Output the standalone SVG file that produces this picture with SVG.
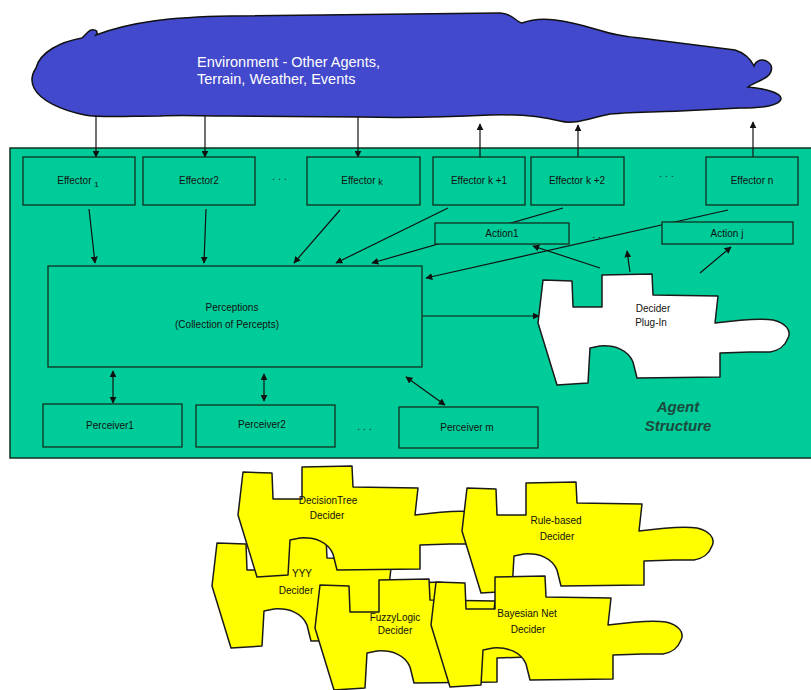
<svg xmlns="http://www.w3.org/2000/svg" xmlns:xlink="http://www.w3.org/1999/xlink" width="811" height="690" viewBox="0 0 811 690">
<style>
  .box { fill: #00cc99; stroke: #12301f; stroke-width: 1.3; }
  .lbl { font-family: "Liberation Sans", Arial, sans-serif; font-size: 10px; fill: #111; text-anchor: middle; }
  .dots { font-family: "Liberation Sans", Arial, sans-serif; font-size: 10px; fill: #222; text-anchor: middle; letter-spacing: 3px; }
  .conn { stroke: #111; stroke-width: 1.2; fill: none; }
  .arr { marker-end: url(#ah); }
  .darr { marker-end: url(#ah); marker-start: url(#ahs); }
  .piece { stroke: #1a1a1a; stroke-width: 1.5; stroke-linejoin: round; }
  .yel { fill: #ffff00; }
  .env { font-family: "Liberation Sans", Arial, sans-serif; font-size: 14.5px; fill: #ffffff; }
  .agent { font-family: "Liberation Sans", Arial, sans-serif; font-size: 15px; font-weight: bold; font-style: italic; fill: #1c4a3c; text-anchor: middle; }
</style>
<defs>
  <marker id="ah" viewBox="0 0 10 10" refX="9" refY="5" markerWidth="7" markerHeight="7" markerUnits="userSpaceOnUse" orient="auto">
    <path d="M0,0 L10,5 L0,10 Z" fill="#111"/>
  </marker>
  <marker id="ahs" viewBox="0 0 10 10" refX="1" refY="5" markerWidth="7" markerHeight="7" markerUnits="userSpaceOnUse" orient="auto">
    <path d="M10,0 L0,5 L10,10 Z" fill="#111"/>
  </marker>
  <path id="piece" d="M543,280 L572,281 L573,307 L602,307 L602,275 L652,274 L653,295 L718,296 L715,323 C730,321 760,318 773,320 C785,323 792,330 788,338 C785,346 780,350 770,352 L750,352 L720,353 L720,377 L637,378 L633,362 C628,350 615,345 600,346 L590,348 L588,383 L557,385 L538,323 L543,280 Z"/>
</defs>

<rect width="811" height="690" fill="#ffffff"/>

<g id="environment">
  <path d="M36,68 C40,52 60,42 82,38 L88,32 C92,28 100,30 96,35 C130,22 170,17 230,16 L500,13 C512,13 516,22 522,23 C530,20 540,18 555,20 C590,24 605,36 640,38 L735,50 C748,54 752,62 754,66 C756,60 763,58 768,62 C774,66 772,74 765,78 C758,82 752,84 748,87 C760,88 782,92 781,99 C779,106 760,108 740,108 L680,111 C650,112 630,112 610,114 C590,118 575,125 560,121 C540,116 520,114 490,115 C450,117 400,118 360,117 L230,116 C200,116 180,115 160,116 C130,116 100,118 85,115 C60,110 40,100 34,88 C30,80 32,74 36,68 Z" fill="#4249cc" stroke="#111" stroke-width="1.5"/>
  <text class="env" x="197" y="67">Environment - Other Agents,</text>
  <text class="env" x="197" y="84">Terrain, Weather, Events</text>
</g>

<g id="agent-structure">
  <rect x="10" y="148" width="802" height="310" fill="#00cc99" stroke="#12301f" stroke-width="1.5"/>
  <text class="agent" x="678" y="412">Agent</text>
  <text class="agent" x="678" y="431">Structure</text>
</g>

<g id="connectors">
  <line class="conn arr" x1="96" y1="115" x2="96" y2="157"/>
  <line class="conn arr" x1="205" y1="116" x2="205" y2="157"/>
  <line class="conn arr" x1="358" y1="117" x2="358" y2="157"/>
  <line class="conn arr" x1="480" y1="157" x2="480" y2="124"/>
  <line class="conn arr" x1="578" y1="157" x2="578" y2="125"/>
  <line class="conn arr" x1="753" y1="157" x2="753" y2="122"/>
  <line class="conn arr" x1="89" y1="209" x2="95" y2="263"/>
  <line class="conn arr" x1="206" y1="209" x2="204" y2="263"/>
  <line class="conn arr" x1="340" y1="210" x2="294" y2="263"/>
  <line class="conn arr" x1="448" y1="208" x2="336" y2="263"/>
  <line class="conn arr" x1="563" y1="208" x2="372" y2="263"/>
  <line class="conn arr" x1="728" y1="210" x2="426" y2="278"/>
  <line class="conn arr" x1="422" y1="316" x2="539" y2="316"/>
  <line class="conn arr" x1="600" y1="268" x2="533" y2="246"/>
  <line class="conn arr" x1="630" y1="272" x2="627" y2="251"/>
  <line class="conn arr" x1="700" y1="273" x2="731" y2="247"/>
  <line class="conn darr" x1="113" y1="371" x2="113" y2="403"/>
  <line class="conn darr" x1="264" y1="374" x2="264" y2="401"/>
  <line class="conn darr" x1="406" y1="377" x2="445" y2="405"/>
</g>

<g id="effector1">
  <rect class="box" x="23" y="157" width="112" height="48"/>
  <text class="lbl" x="78" y="184">Effector <tspan font-size="8" dy="3">1</tspan></text>
</g>
<g id="effector2">
  <rect class="box" x="143" y="157" width="112" height="48"/>
  <text class="lbl" x="199" y="184">Effector2</text>
</g>
<text class="dots" x="281" y="180">...</text>
<g id="effector-k">
  <rect class="box" x="307" y="157" width="113" height="48"/>
  <text class="lbl" x="362" y="184">Effector  <tspan font-size="9" dy="1">k</tspan></text>
</g>
<g id="effector-k1">
  <rect class="box" x="433" y="157" width="92" height="48"/>
  <text class="lbl" x="479" y="184">Effector k +1</text>
</g>
<g id="effector-k2">
  <rect class="box" x="531" y="157" width="93" height="48"/>
  <text class="lbl" x="577" y="184">Effector k +2</text>
</g>
<text class="dots" x="668" y="177">...</text>
<g id="effector-n">
  <rect class="box" x="706" y="157" width="92" height="48"/>
  <text class="lbl" x="752" y="184">Effector n</text>
</g>

<g id="action1">
  <rect class="box" x="435" y="223" width="134" height="21"/>
  <text class="lbl" x="502" y="237">Action1</text>
</g>
<text class="dots" x="601" y="238">...</text>
<g id="action-j">
  <rect class="box" x="662" y="222" width="131" height="22"/>
  <text class="lbl" x="727" y="237">Action j</text>
</g>

<g id="perceptions">
  <rect class="box" x="48" y="266" width="374" height="101"/>
  <text class="lbl" x="232" y="311">Perceptions</text>
  <text class="lbl" x="227" y="328">(Collection of Percepts)</text>
</g>

<g id="perceiver1">
  <rect class="box" x="43" y="404" width="139" height="43"/>
  <text class="lbl" x="110" y="429">Perceiver1</text>
</g>
<g id="perceiver2">
  <rect class="box" x="196" y="405" width="139" height="42"/>
  <text class="lbl" x="262" y="428">Perceiver2</text>
</g>
<text class="dots" x="366" y="430">...</text>
<g id="perceiver-m">
  <rect class="box" x="399" y="407" width="139" height="41"/>
  <text class="lbl" x="467" y="431">Perceiver m</text>
</g>

<g id="decider-plugin">
  <use xlink:href="#piece" class="piece" fill="#ffffff"/>
  <text class="lbl" x="653" y="312">Decider</text>
  <text class="lbl" x="651" y="326">Plug-In</text>
</g>

<g id="yyy-decider">
  <use xlink:href="#piece" class="piece yel" transform="translate(-326,263)"/>
  <text class="lbl" x="302" y="577">YYY</text>
  <text class="lbl" x="296" y="594">Decider</text>
</g>
<g id="decisiontree-decider">
  <use xlink:href="#piece" class="piece yel" transform="translate(-300,192)"/>
  <text class="lbl" x="328" y="504">DecisionTree</text>
  <text class="lbl" x="327" y="519">Decider</text>
</g>
<g id="rulebased-decider">
  <use xlink:href="#piece" class="piece yel" transform="translate(-76,208)"/>
  <text class="lbl" x="556" y="524">Rule-based</text>
  <text class="lbl" x="557" y="540">Decider</text>
</g>
<g id="fuzzylogic-decider">
  <use xlink:href="#piece" class="piece yel" transform="translate(-223,305)"/>
  <text class="lbl" x="395" y="621">FuzzyLogic</text>
  <text class="lbl" x="395" y="634">Decider</text>
</g>
<g id="bayesian-decider">
  <use xlink:href="#piece" class="piece yel" transform="translate(-107,302)"/>
  <text class="lbl" x="527" y="617">Bayesian Net</text>
  <text class="lbl" x="528" y="633">Decider</text>
</g>
</svg>
